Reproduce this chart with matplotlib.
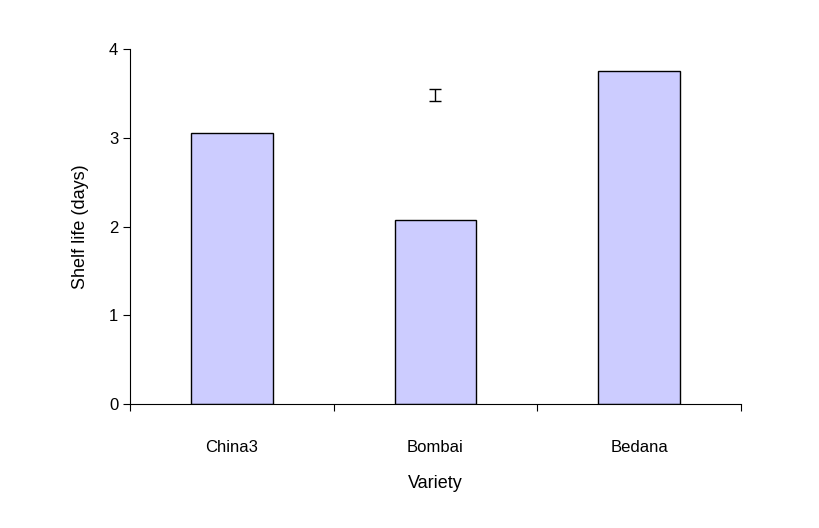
import matplotlib
matplotlib.use("Agg")
import matplotlib.pyplot as plt

categories = ["China3", "Bombai", "Bedana"]
values = [3.06, 2.08, 3.75]
lsd_x = 1
lsd_center = 3.485
lsd_half = 0.065

plt.rcParams['font.family'] = ['Liberation Sans', 'DejaVu Sans']
fig = plt.figure(figsize=(8.2, 5.28), dpi=100)
ax = fig.add_axes([0.1585, 0.2348, 0.745, 0.672])
x = list(range(len(categories)))
ax.bar(x, values, width=0.4, color="#ccccff", edgecolor="black", linewidth=1)
ax.errorbar([lsd_x], [lsd_center], yerr=[lsd_half], fmt="none", ecolor="black", capsize=4, elinewidth=1)
ax.set_xlim(-0.5, 2.5)
ax.set_ylim(0, 4)
ax.set_yticks([0, 1, 2, 3, 4])
ax.set_xticks([-0.5, 0.5, 1.5, 2.5])
ax.set_xticklabels([])
ax.set_xticks(x, minor=True)
ax.set_xticklabels(categories, minor=True)
ax.tick_params(axis="x", which="minor", length=0, pad=26)
ax.tick_params(axis="both", which="major", direction="out", length=5, labelsize=12)
ax.tick_params(axis="x", which="minor", labelsize=12)
for s in ["top", "right"]:
    ax.spines[s].set_visible(False)
ax.set_xlabel("Variety", fontsize=13, labelpad=14)
ax.set_ylabel("Shelf life (days)", fontsize=13, labelpad=14)
fig.savefig("out.png", dpi=100, facecolor="white")
